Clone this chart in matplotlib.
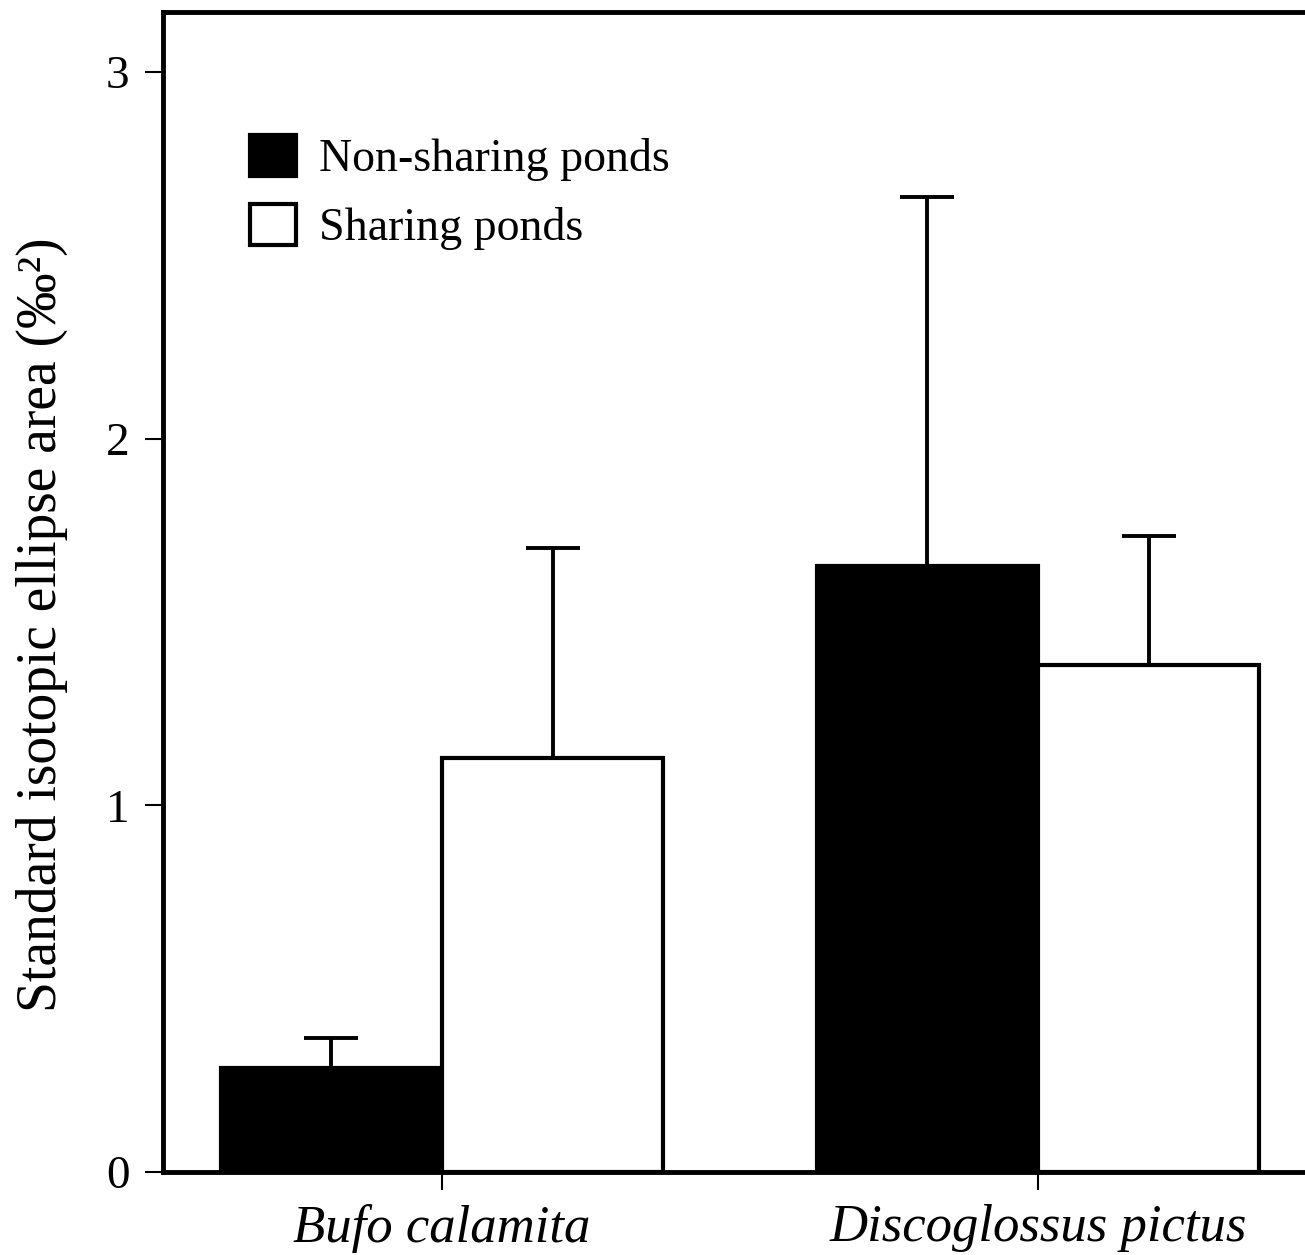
import matplotlib
matplotlib.use("Agg")
import matplotlib.pyplot as plt
import numpy as np

species = ["Bufo calamita", "Discoglossus pictus"]
groups = ["Non-sharing ponds", "Sharing ponds"]
non_sharing = [0.284, 1.653]
non_sharing_err = [0.081, 1.006]
sharing = [1.129, 1.383]
sharing_err = [0.573, 0.351]
yticks = [0, 1, 2, 3]

plt.rcParams['font.family'] = ['Liberation Serif', 'DejaVu Serif']

fig = plt.figure(figsize=(13.05, 12.55), dpi=100)
ax = fig.add_axes([163/1305, 83/1255, 1 - 163/1305, (1172-12)/1255])

x = np.arange(len(species))
w = 0.371
lw = 3.0
ekw = dict(elinewidth=2.8, capthick=2.8, capsize=19.5, ecolor='black')

ax.bar(x - w/2, non_sharing, w, color='black', edgecolor='black', linewidth=lw,
       label=groups[0], zorder=2)
ax.bar(x + w/2, sharing, w, color='white', edgecolor='black', linewidth=lw,
       label=groups[1], zorder=2)
ax.errorbar(x - w/2, non_sharing, yerr=[np.zeros(2), non_sharing_err], fmt='none',
            zorder=1, **ekw)
ax.errorbar(x + w/2, sharing, yerr=[np.zeros(2), sharing_err], fmt='none',
            zorder=1, **ekw)

ax.set_xlim(-0.468, 1.448)
ax.set_ylim(0, 3.163)
ax.set_xticks(x)
ax.set_xticklabels(species, fontsize=38, style='italic')
ax.set_yticks(yticks)
ax.set_yticklabels([str(t) for t in yticks], fontsize=34)
ax.tick_params(axis='both', direction='out', length=13, width=1.5)
ax.tick_params(axis='y', pad=11)
ax.tick_params(axis='x', pad=10)

for s in ['left', 'bottom', 'top']:
    ax.spines[s].set_linewidth(3.5)
ax.spines['right'].set_visible(False)

ax.set_ylabel("Standard isotopic ellipse area (‰²)", fontsize=40)
ax.yaxis.set_label_coords(-0.106, 0.4716)
ax.yaxis.label.set_verticalalignment('center')

ax.legend(loc='upper left', bbox_to_anchor=(0.076, 0.894), frameon=False,
          fontsize=33, handlelength=1.0, handleheight=1.0, handletextpad=0.5,
          labelspacing=0.5, borderpad=0, borderaxespad=0)

fig.savefig("out.png", dpi=100)
